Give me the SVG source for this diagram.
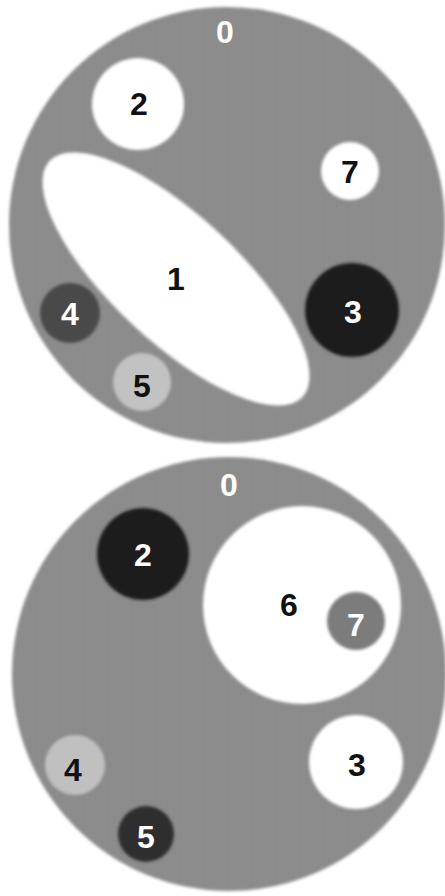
<svg xmlns="http://www.w3.org/2000/svg" width="445" height="896" viewBox="0 0 445 896">
  <defs>
    <filter id="soft" x="-10%" y="-10%" width="120%" height="120%">
      <feGaussianBlur stdDeviation="1.5"/>
    </filter>
    <pattern id="tex" width="6" height="3" patternUnits="userSpaceOnUse">
      <rect width="6" height="3" fill="#8e8e8e"/>
      <rect y="0" width="6" height="1" fill="#848484"/>
      <rect x="2" y="2" width="2" height="1" fill="#969696"/>
    </pattern>
    <style>
      .phantom { fill: url(#tex); filter: url(#soft); }
      .blob { filter: url(#soft); }
      .lbl { font-family: "Liberation Sans", Arial, sans-serif; font-size: 32px; font-weight: bold; text-anchor: middle; }
      .m { font-weight: 600; }
      .w { fill: #ffffff; }
      .k { fill: #111111; }
    </style>
  </defs>
  <rect width="445" height="896" fill="#ffffff"/>

  <!-- Top phantom -->
  <g id="top-phantom">
    <g id="top-0">
      <circle class="phantom" cx="227" cy="225" r="218"/>
      <text class="lbl w" x="225" y="43">0</text>
    </g>
    <g id="top-1">
      <ellipse class="blob" cx="176" cy="279" rx="173" ry="63" transform="rotate(43 176 279)" fill="#ffffff"/>
      <text class="lbl k" x="176" y="290">1</text>
    </g>
    <g id="top-2">
      <circle class="blob" cx="138" cy="104" r="46" fill="#ffffff"/>
      <text class="lbl k" x="139" y="115">2</text>
    </g>
    <g id="top-7">
      <circle class="blob" cx="350" cy="171" r="29" fill="#ffffff"/>
      <text class="lbl k" x="350" y="183">7</text>
    </g>
    <g id="top-3">
      <circle class="blob" cx="352" cy="310" r="47" fill="#1e1e1e"/>
      <text class="lbl w" x="353" y="323">3</text>
    </g>
    <g id="top-4">
      <circle class="blob" cx="70" cy="313" r="30" fill="#4a4a4a"/>
      <text class="lbl w" x="70" y="325">4</text>
    </g>
    <g id="top-5">
      <circle class="blob" cx="142" cy="382" r="29" fill="#c2c2c2"/>
      <text class="lbl k" x="142" y="397">5</text>
    </g>
  </g>

  <!-- Bottom phantom -->
  <g id="bottom-phantom">
    <g id="bot-0">
      <circle class="phantom" cx="229" cy="674" r="217"/>
      <text class="lbl w" x="229" y="496">0</text>
    </g>
    <g id="bot-2">
      <circle class="blob" cx="143" cy="554" r="46" fill="#1c1c1c"/>
      <text class="lbl w" x="143" y="566">2</text>
    </g>
    <g id="bot-6">
      <circle class="blob" cx="302" cy="605" r="99" fill="#ffffff"/>
      <text class="lbl k" x="289" y="616">6</text>
    </g>
    <g id="bot-7">
      <circle class="blob" cx="356" cy="621" r="29" fill="#7c7c7c"/>
      <text class="lbl w" x="356" y="636">7</text>
    </g>
    <g id="bot-3">
      <circle class="blob" cx="356" cy="762" r="47" fill="#ffffff"/>
      <text class="lbl k" x="357" y="776">3</text>
    </g>
    <g id="bot-4">
      <circle class="blob" cx="75" cy="765" r="30" fill="#c0c0c0"/>
      <text class="lbl k" x="73" y="781">4</text>
    </g>
    <g id="bot-5">
      <circle class="blob" cx="146" cy="834" r="28" fill="#2e2e2e"/>
      <text class="lbl w" x="146" y="848">5</text>
    </g>
  </g>
</svg>
